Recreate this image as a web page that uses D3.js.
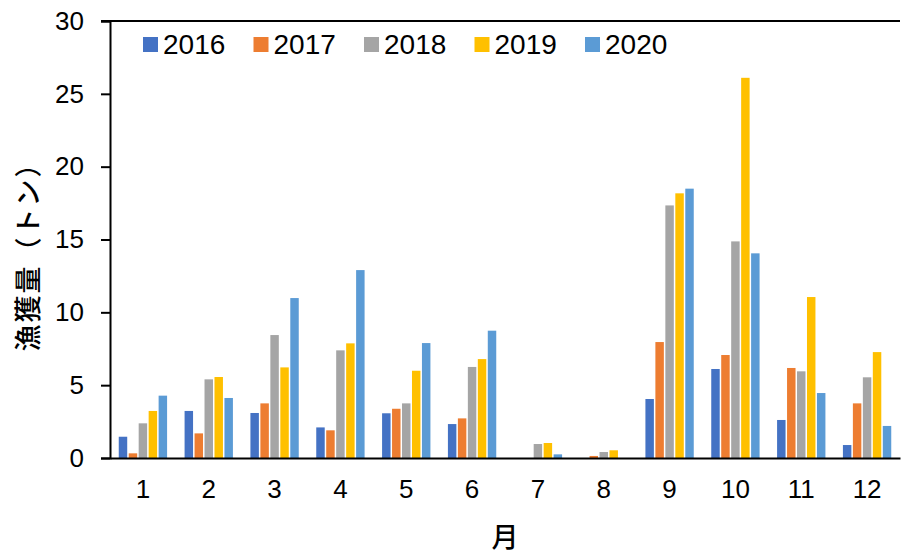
<!DOCTYPE html>
<html>
<head>
<meta charset="utf-8">
<script src="https://cdn.jsdelivr.net/npm/d3@7"></script>
<style>
  body { margin: 0; background: #fff; }
  text { font-family: "Liberation Sans", Arial, "Noto Sans CJK JP", sans-serif; fill: #000; }
</style>
</head>
<body>
<svg id="chart" width="901" height="556"></svg>
<script>
// data //
const months = ['1', '2', '3', '4', '5', '6', '7', '8', '9', '10', '11', '12'];
const years = ['2016', '2017', '2018', '2019', '2020'];
const v2016 = [1.46, 3.23, 3.09, 2.1, 3.07, 2.33, 0, 0, 4.05, 6.11, 2.61, 0.89];
const v2017 = [0.32, 1.69, 3.75, 1.9, 3.38, 2.72, 0, 0.14, 7.96, 7.07, 6.18, 3.75];
const v2018 = [2.38, 5.4, 8.44, 7.39, 3.75, 6.25, 0.96, 0.41, 17.34, 14.87, 5.95, 5.54];
const v2019 = [3.23, 5.56, 6.22, 7.87, 5.99, 6.79, 1.03, 0.53, 18.17, 26.1, 11.05, 7.27];
const v2020 = [4.28, 4.12, 10.98, 12.9, 7.89, 8.74, 0.25, 0, 18.49, 14.05, 4.46, 2.2];
const yTicks = [0, 5, 10, 15, 20, 25, 30];
const colors = ['#4472C4', '#ED7D31', '#A5A5A5', '#FFC000', '#5B9BD5'];

const allValues = [v2016, v2017, v2018, v2019, v2020];

const svg = d3.select('#chart');
const plotLeft = 110, plotRight = 900, plotTop = 21, plotBottom = 458;

//scales//
const x0 = d3.scaleBand()
  .domain(months)
  .range([plotLeft, plotRight])
  .paddingInner(0.243)
  .paddingOuter(0.1215);

const x1 = d3.scaleBand()
  .domain(years)
  .range([0, x0.bandwidth()]);

const y = d3.scaleLinear()
  .domain([0, 30])
  .range([plotBottom, plotTop]);

const color = d3.scaleOrdinal().domain(years).range(colors);

//bars//
const groups = svg.append('g')
  .selectAll('g')
  .data(months)
  .join('g')
  .attr('transform', d => `translate(${x0(d)},0)`);

groups.selectAll('rect')
  .data((m, i) => years.map((yr, j) => ({ year: yr, value: allValues[j][i] })))
  .join('rect')
  .attr('x', d => x1(d.year) + 0.75)
  .attr('width', x1.bandwidth() - 1.5)
  .attr('y', d => y(d.value))
  .attr('height', d => plotBottom - y(d.value))
  .attr('fill', d => color(d.year));

//top line at 30//
svg.append('line')
  .attr('x1', plotLeft - 9).attr('x2', plotRight)
  .attr('y1', y(30)).attr('y2', y(30))
  .attr('stroke', '#000').attr('stroke-width', 2);

//y axis//
const yAxis = d3.axisLeft(y).tickValues(yTicks).tickSize(9).tickPadding(17);
const ga = svg.append('g')
  .attr('transform', `translate(${plotLeft},0)`)
  .call(yAxis);
ga.select('.domain').attr('stroke', '#000').attr('stroke-width', 2);
ga.selectAll('.tick line').attr('stroke', '#000').attr('stroke-width', 2);
ga.selectAll('.tick text').style('font-size', '26px').attr('font-family', null);

//x axis//
const xAxis = d3.axisBottom(x0).tickSize(0).tickPadding(22);
const gx = svg.append('g')
  .attr('transform', `translate(0,${plotBottom})`)
  .call(xAxis);
gx.select('.domain').attr('stroke', '#000').attr('stroke-width', 2);
gx.selectAll('.tick text').style('font-size', '26px').attr('font-family', null);

//axis titles//
svg.append('text')
  .attr('x', (plotLeft + plotRight) / 2)
  .attr('y', 547)
  .attr('text-anchor', 'middle')
  .style('font-family', '"Noto Sans CJK JP", sans-serif')
  .style('font-size', '27px')
  .style('font-weight', 500)
  .text('月');

svg.append('text')
  .attr('transform', 'translate(38,250) rotate(-90)')
  .attr('text-anchor', 'middle')
  .style('font-family', '"Noto Sans CJK JP", sans-serif')
  .style('font-size', '27px')
  .style('font-weight', 500)
  .style('letter-spacing', '2px')
  .text('漁獲量（トン）');

//legend//
const legend = svg.append('g')
  .selectAll('g')
  .data(years)
  .join('g')
  .attr('transform', (d, i) => `translate(${143 + i * 110.5},37)`);

legend.append('rect')
  .attr('width', 15).attr('height', 15)
  .attr('fill', d => color(d));

legend.append('text')
  .attr('x', 20)
  .attr('y', 17)
  .style('font-size', '28px')
  .text(d => d);
</script>
</body>
</html>
